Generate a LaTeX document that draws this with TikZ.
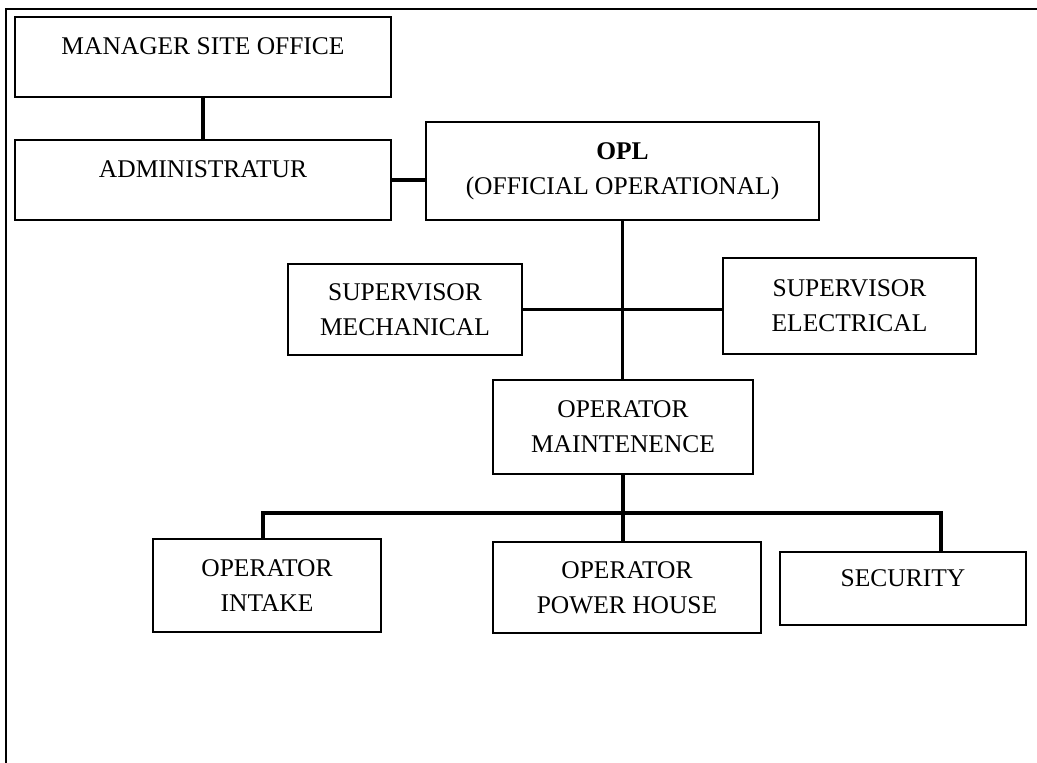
\documentclass[tikz,border=0pt]{standalone}
\usepackage{fontspec}
\setmainfont{Liberation Serif}
\usepackage{tikz}
\usetikzlibrary{positioning,calc}
\newcommand{\orgfont}{\fontsize{14.5}{19.8}\selectfont}
\tikzset{
  unitbox/.style={draw=black, line width=1.2pt, align=center, inner sep=2pt,
                  font=\orgfont},
  topunit/.style={unitbox, text depth=13pt},
  orglink/.style={line width=1.8pt, draw=black},
}

\begin{document}
\begin{tikzpicture}[x=0.02cm,y=-0.02cm]
  \useasboundingbox (0,0) rectangle (1037,763);
  % frame
  \draw[line width=1pt] (6,763) -- (6,9) -- (1037,9);
  % top level
  \node[topunit, minimum width=7.52cm, minimum height=1.6cm] (mso) at (203,57) {MANAGER SITE OFFICE};
  \node[topunit, minimum width=7.52cm, minimum height=1.6cm] (adm) at (203,180) {ADMINISTRATUR};
  \node[unitbox, minimum width=7.86cm, minimum height=1.96cm] (opl) at (622.5,171)
       {\textbf{OPL}\\(OFFICIAL OPERATIONAL)};
  % supervisors
  \node[unitbox, minimum width=4.68cm, minimum height=1.82cm] (mech) at (405,309.5) {SUPERVISOR\\MECHANICAL};
  \node[unitbox, minimum width=5.06cm, minimum height=1.92cm] (elec) at (849.5,306) {SUPERVISOR\\ELECTRICAL};
  \node[unitbox, minimum width=5.2cm, minimum height=1.88cm] (om) at (623,427) {OPERATOR\\MAINTENENCE};
  % operators
  \node[unitbox, minimum width=4.56cm, minimum height=1.86cm] (intake) at (267,585.5) {OPERATOR\\INTAKE};
  \node[unitbox, minimum width=5.36cm, minimum height=1.82cm] (ph) at (627,587.5) {OPERATOR\\POWER HOUSE};
  \node[topunit, minimum width=4.92cm, minimum height=1.46cm, text depth=12pt] (sec) at (903,588.5) {SECURITY};
  % links
  \draw[orglink] (mso.south) -- (adm.north);
  \draw[orglink] (adm.east) -- (adm.east -| opl.west);
  \draw[orglink] (opl.south) -- (opl.south |- om.north);
  \draw[orglink] (mech.east) -- (mech.east -| elec.west);
  \coordinate (busL) at (263,513);
  \coordinate (busR) at (941,513);
  \draw[orglink] (busL |- intake.north) -- (busL) -- (busR) -- (busR |- sec.north);
  \draw[orglink] (om.south) -- (om.south |- ph.north);
\end{tikzpicture}
\end{document}
